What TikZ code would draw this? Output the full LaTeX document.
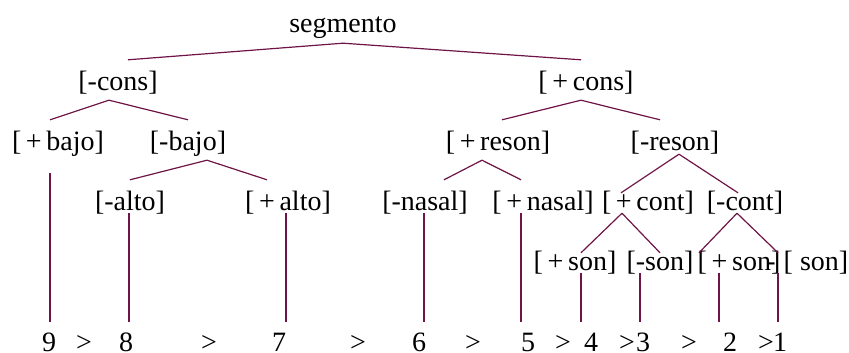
\documentclass[tikz,border=0pt]{standalone}
\usepackage{fontspec}
\setmainfont{Liberation Serif}
\usepackage{tikz}
\definecolor{branch}{RGB}{110,20,70}
\tikzset{feat/.style={anchor=base, inner sep=0pt, text height=30pt, text depth=10pt},
  low/.style={feat, text depth=3pt},
  tight/.style={feat, text height=17pt, text depth=3pt},
  num/.style={feat, text height=29pt, text depth=0pt}}

\begin{document}
\begin{tikzpicture}[x=1pt,y=-1pt,font=\fontsize{28}{32}\selectfont,
  every edge/.style={draw=branch,line width=1.2pt}]
\useasboundingbox (0,0) rectangle (849,353);
\node[feat] (seg) at (343,33) {segmento};
\node[feat] (mcons) at (118,90) {[-cons]}; \node[feat] (pcons) at (586,90) {[\,+\,cons]};
\node[feat] (pbajo) at (58,150) {[\,+\,bajo]}; \node[feat] (mbajo) at (188,150) {[-bajo]};
\node[feat] (preson) at (498,150) {[\,+\,reson]}; \node[feat] (mreson) at (675,150) {[-reson]};
\node[low] (malto) at (130,210) {[-alto]}; \node[low] (palto) at (288,210) {[\,+\,alto]};
\node[low] (mnasal) at (425,210) {[-nasal]}; \node[low] (pnasal) at (543,210) {[\,+\,nasal]};
\node[tight] (pcont) at (648,210) {[\,+\,cont]}; \node[tight] (mcont) at (745,210) {[-cont]};
\node[tight] (pson) at (575,270) {[\,+\,son]}; \node[tight] (mson) at (660,270) {[-son]};
\node[tight] (pson2) at (739,270) {[\,+\,son]}; \node[tight] (son) at (816,270) {[\ son]};
\node[tight] (dash) at (771,270) {-};
\node[num] (n9) at (49,351) {9}; \node[num] (g1) at (84,351) {>}; \node[num] (n8) at (126,351) {8};
\node[num] (g2) at (209,351) {>}; \node[num] (n7) at (279,351) {7}; \node[num] (g3) at (358,351) {>};
\node[num] (n6) at (419,351) {6}; \node[num] (g4) at (473,351) {>}; \node[num] (n5) at (528,351) {5};
\node[num] (g5) at (563,351) {>}; \node[num] (n4) at (591,351) {4}; \node[num] (g6) at (627,351) {>};
\node[num] (n3) at (643,351) {3}; \node[num] (g7) at (689,351) {>}; \node[num] (n2) at (730,351) {2};
\node[num] (g8) at (766,351) {>}; \node[num] (n1) at (780,351) {1};
 \path (seg.south) edge ([xshift=10pt]mcons.north) edge ([xshift=-5pt]pcons.north) ;
 \path ([xshift=-9pt]mcons.south) edge ([xshift=-8pt]pbajo.north) edge (mbajo.north) ;
 \path ([xshift=19pt]mbajo.south) edge (malto.north) edge ([xshift=-21pt]palto.north) ;
 \path ([xshift=-5pt]pcons.south) edge ([xshift=4pt]preson.north) edge ([xshift=-15pt]mreson.north) ;
 \path ([xshift=-16pt]preson.south) edge ([xshift=19pt]mnasal.north) edge ([xshift=-22pt]pnasal.north) ;
 \path ([xshift=4pt,yshift=6pt]mreson.south) edge ([xshift=-27pt]pcont.north) edge ([xshift=-7pt]mcont.north) ;
 \path ([xshift=-26pt]pcont.south) edge ([xshift=6pt]pson.north) edge (mson.north) ;
 \path ([xshift=-8pt]mcont.south) edge ([xshift=-40pt]pson2.north) edge ([xshift=-38pt]son.north) ;
 \path ([xshift=-8pt,yshift=-13pt]pbajo.south) edge ([xshift=-8pt]pbajo.south |- n9.north) ;
 \path ([xshift=-1pt]malto.south) edge ([xshift=-1pt]malto.south |- n8.north) ;
 \path ([xshift=-2pt]palto.south) edge ([xshift=-2pt]palto.south |- n7.north) ;
 \path ([xshift=-1pt]mnasal.south) edge ([xshift=-1pt]mnasal.south |- n6.north) ;
 \path ([xshift=-22pt]pnasal.south) edge ([xshift=-22pt]pnasal.south |- n5.north) ;
 \path ([xshift=6pt]pson.south) edge ([xshift=6pt]pson.south |- n4.north) ;
 \path ([xshift=-20pt]mson.south) edge ([xshift=-20pt]mson.south |- n3.north) ;
 \path ([xshift=-20pt]pson2.south) edge ([xshift=-20pt]pson2.south |- n2.north) ;
 \path ([xshift=-38pt]son.south) edge ([xshift=-38pt]son.south |- n1.north) ;
\end{tikzpicture}
\end{document}
